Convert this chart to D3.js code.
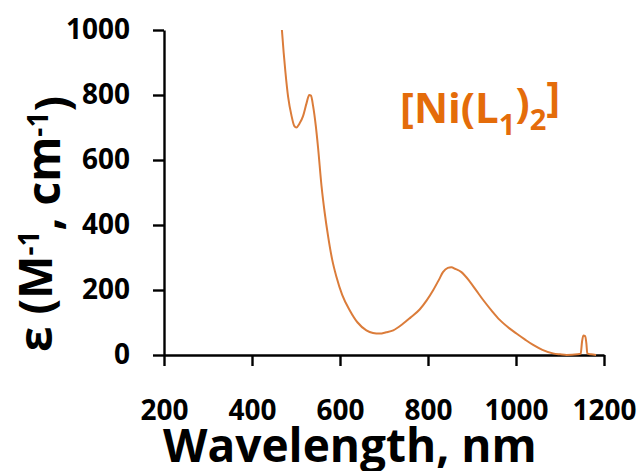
<!DOCTYPE html>
<html>
<head>
<meta charset="utf-8">
<script src="https://cdn.jsdelivr.net/npm/d3@7"></script>
<style>
  html, body { margin: 0; padding: 0; background: #fff; }
  svg { display: block; }
  text { font-family: "Open Sans", "Noto Sans", sans-serif; font-weight: 700; }
</style>
</head>
<body>
<svg id="chart" width="641" height="471"></svg>
<script>
// Wavelength (nm) and molar absorptivity (M^-1 cm^-1)
const wavelength = [468, 472, 476, 482, 490, 496, 501, 508, 516, 524, 530, 534, 539, 545, 550, 558, 565, 573, 582, 592, 605, 622, 640, 660, 675, 690, 705, 721, 743, 760, 781, 797, 812, 825, 834, 845, 853, 862, 876, 895, 910, 925, 945, 963, 985, 1001, 1020, 1039, 1060, 1084, 1100, 1115, 1140, 1147, 1150, 1153, 1157, 1160, 1162, 1170, 1182];
const epsilon    = [1000, 930, 870, 795, 735, 705, 700, 712, 735, 775, 800, 798, 765, 705, 640, 520, 440, 365, 295, 240, 185, 138, 100, 76, 68, 66, 70, 76, 96, 115, 140, 168, 200, 232, 255, 268, 270, 265, 255, 226, 198, 170, 136, 108, 82, 66, 48, 31, 16, 5, 2, 0, 2, 4, 40, 60, 58, 35, 5, 2, 0];

const xTicks = [200, 400, 600, 800, 1000, 1200];
const yTicks = [0, 200, 400, 600, 800, 1000];
const xTitle = "Wavelength, nm";

const svg = d3.select("#chart");
svg.append("rect").attr("width", 641).attr("height", 471).attr("fill", "#fff");

const x = d3.scaleLinear().domain([200, 1200]).range([164, 604]);
const y = d3.scaleLinear().domain([0, 1000]).range([355, 30]);

// Axes
const fmt = d3.format("d");
const yAxis = d3.axisLeft(y).tickValues(yTicks).tickFormat(fmt).tickSize(11).tickSizeOuter(0).tickPadding(23);
const xAxis = d3.axisBottom(x).tickValues(xTicks).tickFormat(fmt).tickSize(11).tickSizeOuter(0).tickPadding(34);

const gy = svg.append("g").attr("transform", `translate(${x(200)},0)`).call(yAxis);
const gx = svg.append("g").attr("transform", `translate(0,${y(0)})`).call(xAxis);

[gx, gy].forEach(g => {
  g.select(".domain").attr("stroke", "#000").attr("stroke-width", 2.4);
  g.selectAll(".tick line").attr("stroke", "#000").attr("stroke-width", 2.4);
  g.selectAll(".tick text")
    .attr("fill", "#000")
    .style("font-family", '"Open Sans", sans-serif')
    .style("font-weight", 700)
    .style("font-size", "28px");
});

// Data line
const pts = wavelength.map((w, i) => [w, epsilon[i]]);
const line = d3.line()
  .x(d => x(d[0]))
  .y(d => y(d[1]))
  .curve(d3.curveMonotoneX);

svg.append("path")
  .datum(pts)
  .attr("fill", "none")
  .attr("stroke", "#DB7C3A")
  .attr("stroke-width", 2)
  .attr("stroke-linejoin", "round")
  .attr("d", line);

// X title
svg.append("text")
  .attr("x", 163)
  .attr("y", 462)
  .attr("fill", "#000")
  .style("font-size", "46px")
  .text(xTitle);

// Y title (rotated)
const yt = svg.append("text")
  .attr("transform", "translate(52,224) rotate(-90)")
  .attr("text-anchor", "middle")
  .attr("fill", "#000")
  .style("font-size", "46px");
yt.append("tspan").text("ε (M");
yt.append("tspan").attr("dy", "-0.45em").style("font-size", "28px").text("-1");
yt.append("tspan").attr("dy", "0.45em").text(", cm");
yt.append("tspan").attr("dy", "-0.45em").style("font-size", "28px").text("-1");
yt.append("tspan").attr("dy", "0.45em").text(")");

// Series label
const lab = svg.append("text")
  .attr("x", 400)
  .attr("y", 123)
  .attr("fill", "#E46C0A")
  .style("font-size", "42px");
lab.append("tspan").text("[Ni(L");
lab.append("tspan").attr("dy", "0.42em").style("font-size", "29px").text("1");
lab.append("tspan").attr("dy", "-0.42em").text(")");
lab.append("tspan").attr("dy", "0.42em").style("font-size", "29px").text("2");
lab.append("tspan").attr("dy", "-0.42em").text("]");
</script>
</body>
</html>
